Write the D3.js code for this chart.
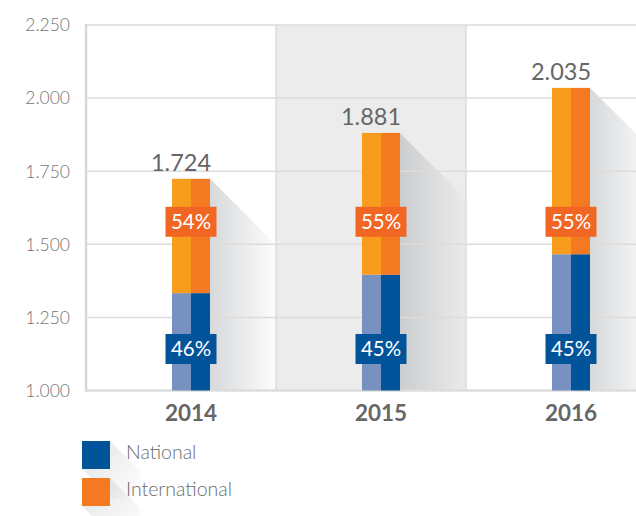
<!DOCTYPE html>
<html>
<head>
<meta charset="utf-8">
<script src="https://cdn.jsdelivr.net/npm/d3@7"></script>
<style>
  body { margin: 0; background: #fff; }
  svg { display: block; font-family: Lato, "Open Sans", sans-serif; }
</style>
</head>
<body>
<div id="chart"></div>
<script>
// data
var years = ["2014", "2015", "2016"];
var totals = [1724, 1881, 2035];
var nationalTops = [1333, 1396, 1466];
var nationalPct = ["46%", "45%", "45%"];
var internationalPct = ["54%", "55%", "55%"];
var yTicks = [1000, 1250, 1500, 1750, 2000, 2250];
var legendItems = ["National", "International"];

var width = 636, height = 516;
var margin = {top: 25, left: 86, bottom: 390.5};

var svg = d3.select("#chart").append("svg")
    .attr("width", width)
    .attr("height", height);

var x = d3.scaleBand().domain(years).range([86, 656]).padding(0);
var y = d3.scaleLinear().domain([1000, 2250]).range([390.5, 25]);
var fmt = d => d3.format(",.3f")(d / 1000).replace(",", "");

var barOffset = 10, halfW = 19;
var barX = d => x(d) + x.bandwidth() / 2 + barOffset;

var defs = svg.append("defs");
var grad = defs.append("linearGradient").attr("id", "shadow")
    .attr("x1", "0").attr("x2", "1").attr("y1", "0").attr("y2", "0");
grad.append("stop").attr("offset", "0").attr("stop-color", "#9ea3a8").attr("stop-opacity", 0.42);
grad.append("stop").attr("offset", "1").attr("stop-color", "#9ea3a8").attr("stop-opacity", 0);

var lgrad = defs.append("linearGradient").attr("id", "lshadow")
    .attr("x1", "0").attr("x2", "1").attr("y1", "0").attr("y2", "1");
lgrad.append("stop").attr("offset", "0").attr("stop-color", "#b0b0b0").attr("stop-opacity", 0.35);
lgrad.append("stop").attr("offset", "1").attr("stop-color", "#b0b0b0").attr("stop-opacity", 0);

// shaded middle column
svg.append("rect")
    .attr("x", x("2015")).attr("y", y(2250))
    .attr("width", x.bandwidth()).attr("height", y(1000) - y(2250))
    .attr("fill", "#ececec");

// long shadows
var shadowLen = 70;
svg.append("g").selectAll("path")
    .data(years)
    .enter().append("path")
    .attr("d", function(d, i) {
        var x0 = barX(d) + halfW, top = y(totals[i]), bot = y(1000);
        var x1 = x0 + shadowLen;
        return "M" + x0 + "," + top + "L" + x1 + "," + (top + shadowLen) +
            "L" + x1 + "," + bot + "L" + x0 + "," + bot + "Z";
    })
    .attr("fill", "url(#shadow)");

// horizontal gridlines
svg.append("g").selectAll("line")
    .data(yTicks)
    .enter().append("line")
    .attr("x1", margin.left).attr("x2", width)
    .attr("y1", d => y(d)).attr("y2", d => y(d))
    .attr("stroke", "#dcdcdc")
    .attr("stroke-width", d => d === 1000 ? 2.5 : 1.5);

// vertical column separators
svg.append("g").selectAll("line")
    .data(years.slice(1))
    .enter().append("line")
    .attr("x1", d => x(d)).attr("x2", d => x(d))
    .attr("y1", y(2250)).attr("y2", y(1000))
    .attr("stroke", "#dcdcdc").attr("stroke-width", 1.5);

// left axis line
svg.append("line")
    .attr("x1", margin.left).attr("x2", margin.left)
    .attr("y1", y(2250) - 1).attr("y2", y(1000) + 1)
    .attr("stroke", "#d6d6d6").attr("stroke-width", 2.5);

// y tick labels
svg.append("g").selectAll("text")
    .data(yTicks)
    .enter().append("text")
    .attr("x", 70).attr("y", d => y(d))
    .attr("dy", "0.36em")
    .attr("text-anchor", "end")
    .attr("font-size", 17.5)
    .attr("font-weight", 300)
    .attr("fill", "#737373")
    .text(fmt);

// bars: each has a lighter left half and a darker right half
var bars = svg.append("g").selectAll("g")
    .data(years)
    .enter().append("g");

var segs = [
    {lo: () => 1000, hi: i => nationalTops[i], colors: ["#7791c1", "#02549a"]},
    {lo: i => nationalTops[i], hi: i => totals[i], colors: ["#f89c1e", "#f47a22"]}
];
segs.forEach(function(s) {
    [0, 1].forEach(function(h) {
        bars.append("rect")
            .attr("x", d => barX(d) - halfW + h * halfW)
            .attr("width", halfW)
            .attr("y", (d, i) => y(s.hi(i)))
            .attr("height", (d, i) => y(s.lo(i)) - y(s.hi(i)))
            .attr("fill", s.colors[h]);
    });
});

// percentage boxes
function addPctBox(labels, val, fill) {
    var g = svg.append("g").selectAll("g")
        .data(years)
        .enter().append("g")
        .attr("transform", d => "translate(" + barX(d) + "," + y(val) + ")");
    g.append("rect")
        .attr("x", -25.5).attr("y", -15)
        .attr("width", 51).attr("height", 30)
        .attr("fill", fill);
    g.append("text")
        .attr("text-anchor", "middle")
        .attr("dy", "0.36em")
        .attr("font-size", 20.5)
        .attr("fill", "#fff")
        .text((d, i) => labels[i]);
}
addPctBox(internationalPct, 1577, "#f26623");
addPctBox(nationalPct, 1142, "#02549a");

// totals above bars
svg.append("g").selectAll("text")
    .data(years)
    .enter().append("text")
    .attr("x", d => x(d) + x.bandwidth() / 2)
    .attr("y", (d, i) => y(totals[i]) - 8)
    .attr("text-anchor", "middle")
    .attr("font-size", 23.5)
    .attr("fill", "#666")
    .text((d, i) => fmt(totals[i]));

// year labels
svg.append("g").selectAll("text")
    .data(years)
    .enter().append("text")
    .attr("x", d => barX(d))
    .attr("y", 420.5)
    .attr("text-anchor", "middle")
    .attr("font-size", 22.5)
    .attr("font-weight", "bold")
    .attr("fill", "#666")
    .text(d => d);

// legend
var legendColors = ["#02549a", "#f47a22"];
var legend = svg.append("g").selectAll("g")
    .data(legendItems)
    .enter().append("g")
    .attr("transform", (d, i) => "translate(82," + (441 + i * 37) + ")");
legend.append("path")
    .attr("d", "M28,0L58,30L58,58L30,58L0,28Z")
    .attr("fill", "url(#lshadow)");
legend.append("rect")
    .attr("width", 28).attr("height", 28)
    .attr("fill", (d, i) => legendColors[i]);
legend.append("text")
    .attr("x", 44).attr("y", 18)
    .attr("font-size", 19.5)
    .attr("font-weight", 300)
    .attr("fill", "#6b6b6b")
    .text(d => d);
</script>
</body>
</html>
